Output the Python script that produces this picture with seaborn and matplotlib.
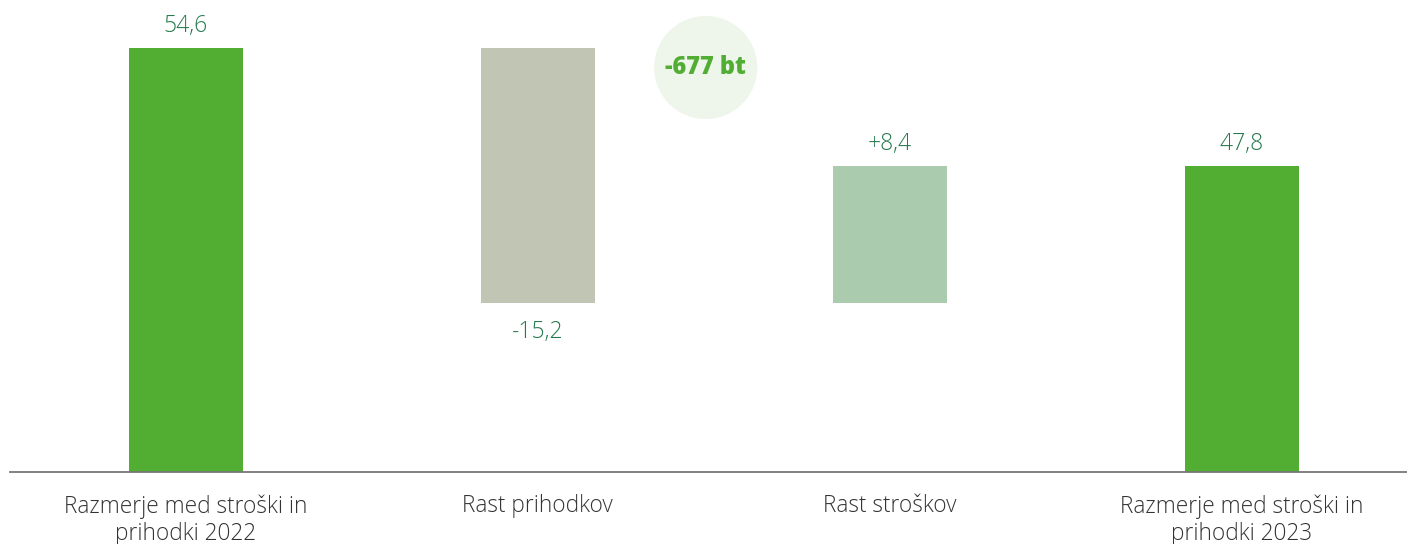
import numpy as np
import pandas as pd
import seaborn as sns
import matplotlib
matplotlib.use('Agg')
import matplotlib.pyplot as plt

# data
categories = ['Razmerje med stroški in\nprihodki 2022', 'Rast prihodkov',
              'Rast stroškov', 'Razmerje med stroški in\nprihodki 2023']
start = 54.6
change_income = -15.2
change_costs = 8.4
end = 47.8
value_labels = ['54,6', '-15,2', '+8,4', '47,8']
badge_text = '-677 bt'

# waterfall bottoms/heights
mid = start + change_income
bottoms = [0, mid, mid, 0]
heights = [start, -change_income, change_costs, end]
df = pd.DataFrame({'cat': categories, 'height': heights, 'bottom': bottoms})

colors = ['#52ae32', '#c1c5b3', '#aacbae', '#52ae32']
txt_green = '#287a4e'

sns.set_style('white')
plt.rcParams['font.family'] = ['Open Sans', 'DejaVu Sans']

fig = plt.figure(figsize=(14.07, 5.44), dpi=100)
ax = fig.add_axes([10 / 1407, 72 / 544, 1397 / 1407, 472 / 544])

sns.barplot(data=df, x='cat', y='height', bottom=df['bottom'], order=categories,
            width=0.324, color=colors[0], ax=ax, linewidth=0)
for p, c in zip(ax.patches, colors):
    p.set_facecolor(c)
    p.set_edgecolor('none')

# the picture is not drawn to a linear scale; mimic its spacing
knots_v = [0, 39.4, 47.8, 54.6, 80]
knots_p = [0, 169, 306, 424, 865]
fwd = lambda v: np.interp(v, knots_v, knots_p)
inv = lambda p: np.interp(p, knots_p, knots_v)
ax.set_yscale('function', functions=(fwd, inv))
ax.set_ylim(0, inv(472))
ax.set_xlim(-0.5, 3.47)

# value labels
for i, (b, h, lab) in enumerate(zip(bottoms, heights, value_labels)):
    if lab.startswith('-'):
        ax.annotate(lab, (i, b), xytext=(0, -21), textcoords='offset points',
                    ha='center', va='center', fontsize=16.5, color=txt_green, fontweight='light')
    else:
        ax.annotate(lab, (i, b + h), xytext=(0, 15.5), textcoords='offset points',
                    ha='center', va='center', fontsize=16.5, color=txt_green, fontweight='light')

ax.annotate(badge_text, (0.498, 0.857), xycoords='axes fraction', ha='center', va='center',
            fontsize=17, fontweight='heavy', color='#52ae32',
            bbox=dict(boxstyle='circle,pad=0.47', fc='#eef5ea', ec='none'))

ax.set_xlabel('')
ax.set_ylabel('')
ax.set_yticks([])
ax.tick_params(axis='x', length=0, pad=16, labelsize=16.3, labelcolor='#333333')
for lbl in ax.get_xticklabels():
    lbl.set_fontweight('light')
    lbl.set_linespacing(1.2)
for s in ['top', 'left', 'right']:
    ax.spines[s].set_visible(False)
ax.spines['bottom'].set_color('#777777')
ax.spines['bottom'].set_linewidth(1.3)

fig.savefig('out.png', dpi=100)
